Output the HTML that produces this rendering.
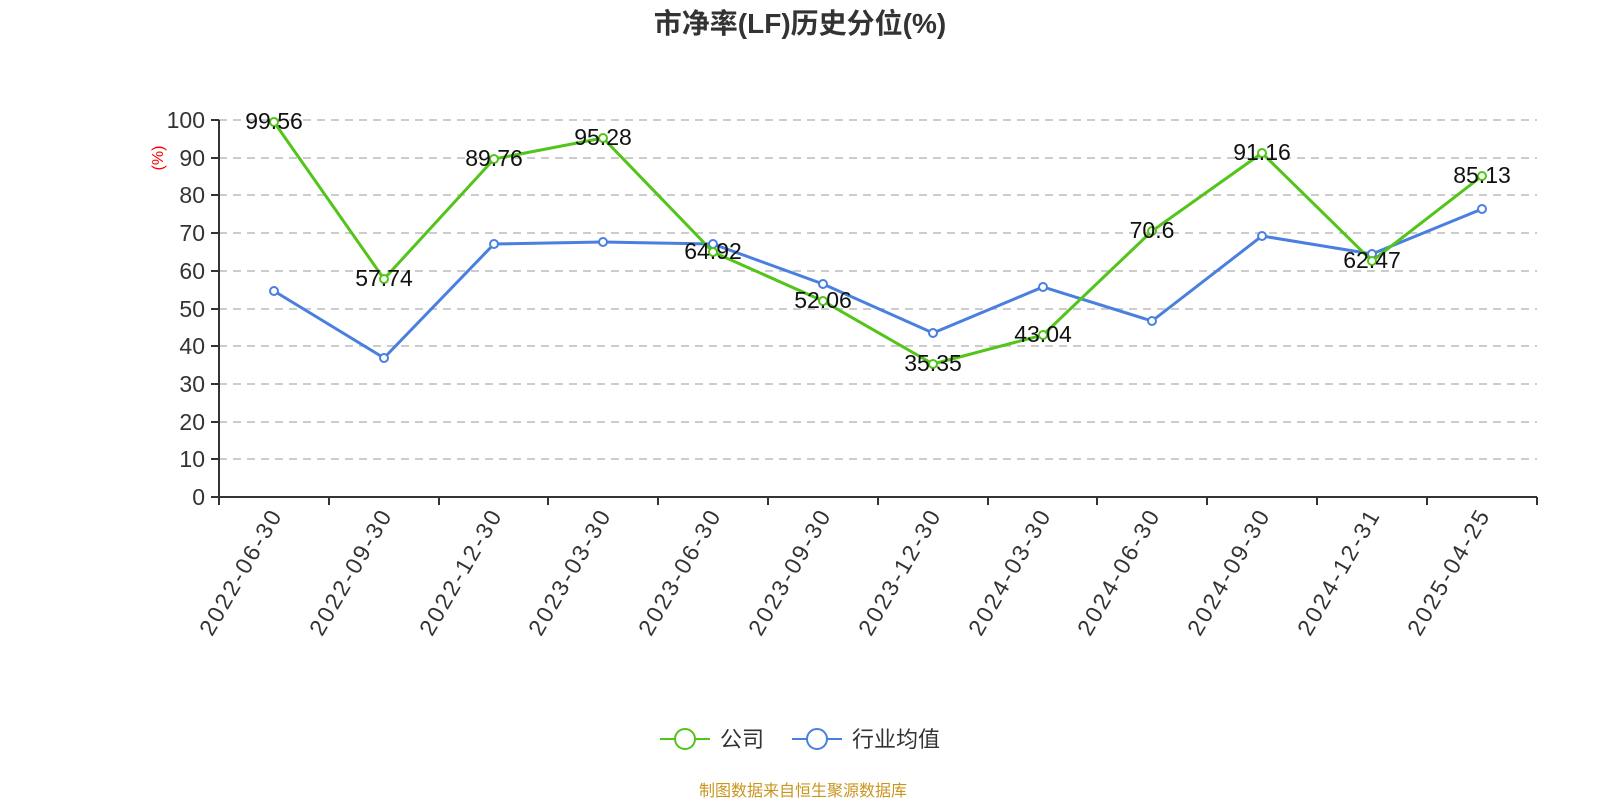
<!DOCTYPE html>
<html><head><meta charset="utf-8"><style>body{margin:0;background:#fff}svg{display:block}text{font-family:"Liberation Sans","Noto Sans CJK SC",sans-serif}</style></head><body>
<svg width="1600" height="800" viewBox="0 0 1600 800" xmlns="http://www.w3.org/2000/svg">
<text x="800" y="33" text-anchor="middle" font-size="28" font-weight="bold" fill="#333">市净率(LF)历史分位(%)</text>
<g stroke="#ccc" stroke-width="2" stroke-dasharray="8,6">
<line x1="219" x2="1537" y1="120" y2="120"/><line x1="219" x2="1537" y1="158" y2="158"/><line x1="219" x2="1537" y1="195" y2="195"/><line x1="219" x2="1537" y1="233" y2="233"/><line x1="219" x2="1537" y1="271" y2="271"/><line x1="219" x2="1537" y1="309" y2="309"/><line x1="219" x2="1537" y1="346" y2="346"/><line x1="219" x2="1537" y1="384" y2="384"/><line x1="219" x2="1537" y1="422" y2="422"/><line x1="219" x2="1537" y1="459" y2="459"/>
</g>
<g stroke="#333" stroke-width="2">
<line x1="219" x2="219" y1="120" y2="497"/><line x1="219" x2="1537" y1="497" y2="497"/>
<line x1="211" x2="219" y1="120" y2="120"/><line x1="211" x2="219" y1="158" y2="158"/><line x1="211" x2="219" y1="195" y2="195"/><line x1="211" x2="219" y1="233" y2="233"/><line x1="211" x2="219" y1="271" y2="271"/><line x1="211" x2="219" y1="309" y2="309"/><line x1="211" x2="219" y1="346" y2="346"/><line x1="211" x2="219" y1="384" y2="384"/><line x1="211" x2="219" y1="422" y2="422"/><line x1="211" x2="219" y1="459" y2="459"/><line x1="211" x2="219" y1="497" y2="497"/>
<line x1="219" x2="219" y1="497" y2="505"/><line x1="329" x2="329" y1="497" y2="505"/><line x1="439" x2="439" y1="497" y2="505"/><line x1="548" x2="548" y1="497" y2="505"/><line x1="658" x2="658" y1="497" y2="505"/><line x1="768" x2="768" y1="497" y2="505"/><line x1="878" x2="878" y1="497" y2="505"/><line x1="988" x2="988" y1="497" y2="505"/><line x1="1097" x2="1097" y1="497" y2="505"/><line x1="1207" x2="1207" y1="497" y2="505"/><line x1="1317" x2="1317" y1="497" y2="505"/><line x1="1427" x2="1427" y1="497" y2="505"/><line x1="1537" x2="1537" y1="497" y2="505"/>
</g>
<g font-size="23" fill="#333" text-anchor="end">
<text x="205" y="128">100</text><text x="205" y="166">90</text><text x="205" y="203">80</text><text x="205" y="241">70</text><text x="205" y="279">60</text><text x="205" y="317">50</text><text x="205" y="354">40</text><text x="205" y="392">30</text><text x="205" y="430">20</text><text x="205" y="467">10</text><text x="205" y="505">0</text>
</g>
<text transform="translate(163,158) rotate(-90)" text-anchor="middle" font-size="16" fill="#f00">(%)</text>
<g font-size="23" fill="#333" text-anchor="end" textLength="140">
<text transform="translate(282,516) rotate(-60)" textLength="140">2022-06-30</text>
<text transform="translate(392,516) rotate(-60)" textLength="140">2022-09-30</text>
<text transform="translate(502,516) rotate(-60)" textLength="140">2022-12-30</text>
<text transform="translate(611,516) rotate(-60)" textLength="140">2023-03-30</text>
<text transform="translate(721,516) rotate(-60)" textLength="140">2023-06-30</text>
<text transform="translate(831,516) rotate(-60)" textLength="140">2023-09-30</text>
<text transform="translate(941,516) rotate(-60)" textLength="140">2023-12-30</text>
<text transform="translate(1051,516) rotate(-60)" textLength="140">2024-03-30</text>
<text transform="translate(1160,516) rotate(-60)" textLength="140">2024-06-30</text>
<text transform="translate(1270,516) rotate(-60)" textLength="140">2024-09-30</text>
<text transform="translate(1380,516) rotate(-60)" textLength="140">2024-12-31</text>
<text transform="translate(1490,516) rotate(-60)" textLength="140">2025-04-25</text>
</g>
<polyline fill="none" stroke="#4a7fe0" stroke-width="3" points="274,291 384,358 494,244 603,242 713,244 823,284 933,333 1043,287 1152,321 1262,236 1372,254 1482,209"/>
<g fill="#fff" stroke="#4a7fe0" stroke-width="2">
<circle cx="274" cy="291" r="4"/><circle cx="384" cy="358" r="4"/><circle cx="494" cy="244" r="4"/><circle cx="603" cy="242" r="4"/><circle cx="713" cy="244" r="4"/><circle cx="823" cy="284" r="4"/><circle cx="933" cy="333" r="4"/><circle cx="1043" cy="287" r="4"/><circle cx="1152" cy="321" r="4"/><circle cx="1262" cy="236" r="4"/><circle cx="1372" cy="254" r="4"/><circle cx="1482" cy="209" r="4"/>
</g>
<polyline fill="none" stroke="#52c41a" stroke-width="3" points="274,122 384,279 494,159 603,138 713,252 823,301 933,364 1043,335 1152,231 1262,153 1372,261 1482,176"/>
<g fill="#fff" stroke="#52c41a" stroke-width="2">
<circle cx="274" cy="122" r="4"/><circle cx="384" cy="279" r="4"/><circle cx="494" cy="159" r="4"/><circle cx="603" cy="138" r="4"/><circle cx="713" cy="252" r="4"/><circle cx="823" cy="301" r="4"/><circle cx="933" cy="364" r="4"/><circle cx="1043" cy="335" r="4"/><circle cx="1152" cy="231" r="4"/><circle cx="1262" cy="153" r="4"/><circle cx="1372" cy="261" r="4"/><circle cx="1482" cy="176" r="4"/>
</g>
<g font-size="23" fill="#111" text-anchor="middle">
<text x="274" y="129">99.56</text><text x="384" y="286">57.74</text><text x="494" y="166">89.76</text><text x="603" y="145">95.28</text><text x="713" y="259">64.92</text><text x="823" y="308">52.06</text><text x="933" y="371">35.35</text><text x="1043" y="342">43.04</text><text x="1152" y="238">70.6</text><text x="1262" y="160">91.16</text><text x="1372" y="268">62.47</text><text x="1482" y="183">85.13</text>
</g>
<g>
<line x1="660" x2="710" y1="739" y2="739" stroke="#52c41a" stroke-width="2"/><circle cx="685" cy="739" r="10" fill="#fff" stroke="#52c41a" stroke-width="2"/>
<text x="720" y="747" font-size="22" fill="#333">公司</text>
<line x1="792" x2="842" y1="739" y2="739" stroke="#4a7fe0" stroke-width="2"/><circle cx="817" cy="739" r="10" fill="#fff" stroke="#4a7fe0" stroke-width="2"/>
<text x="852" y="747" font-size="22" fill="#333">行业均值</text>
</g>
<text x="803" y="796" text-anchor="middle" font-size="16" fill="#c8961e">制图数据来自恒生聚源数据库</text>
</svg>
</body></html>
